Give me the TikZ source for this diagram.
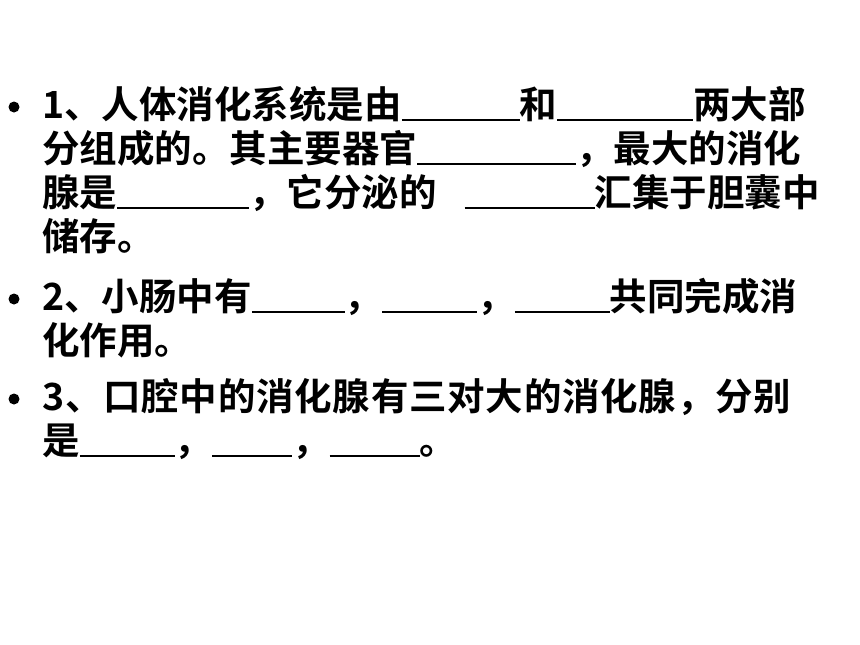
\documentclass[tikz,border=0pt]{standalone}
\usepackage{fontspec}
\setmainfont{Noto Sans CJK SC Bold}
\newcommand{\blank}[1]{\rule[-3pt]{#1pt}{2.2pt}}
\begin{document}
\begin{tikzpicture}[x=1pt,y=-1pt,
  txt/.style={anchor=base west,inner sep=0pt,font=\fontsize{37.5}{44}\selectfont},
  bul/.style={fill=black}]
\useasboundingbox[fill=white] (0,0) rectangle (860,645);
\fill[bul] (14,107) circle[radius=5.5pt];
\node[txt] (l1) at (42,118) {1、人体消化系统是由\blank{118}和\blank{136}两大部};
\node[txt] (l2) at (42,162) {分组成的。其主要器官\blank{159}，最大的消化};
\node[txt] (l3) at (42,206) {腺是\blank{132}，它分泌的\hspace{28pt}\blank{130}汇集于胆囊中};
\node[txt] (l4) at (42,250) {储存。};
\fill[bul] (14,299) circle[radius=5.5pt];
\node[txt] (l5) at (42,310) {2、小肠中有\blank{93}，\blank{95}，\blank{95}共同完成消};
\node[txt] (l6) at (42,354) {化作用。};
\fill[bul] (14,399) circle[radius=5.5pt];
\node[txt] (l7) at (42,410) {\addfontfeature{LetterSpace=2}3、口腔中的消化腺有三对大的消化腺，分别};
\node[txt] (l8) at (42,454) {是\blank{95}，\blank{80}，\blank{90}。};
\end{tikzpicture}
\end{document}
